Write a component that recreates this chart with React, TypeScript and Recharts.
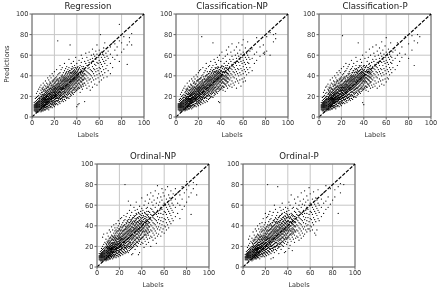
import React from 'react';
import { ScatterChart, Scatter, XAxis, YAxis, CartesianGrid, ReferenceLine } from 'recharts';

type Column = [number, number[]];

const axisTicks = [0, 20, 40, 60, 80, 100];

// label -> predictions
const regressionPoints: Column[] = [
  [2, [6, 7, 8, 9, 10, 11, 12, 14]], [3, [5, 6, 7, 8, 9, 10, 11, 12, 13, 15, 18]],
  [4, [5, 6, 7, 8, 9, 10, 11, 12, 13, 14, 16, 19, 23]], [5, [5, 6, 7, 8, 9, 10, 11, 12, 13, 14, 15, 17, 20, 25]],
  [6, [5, 6, 7, 8, 9, 10, 11, 12, 13, 14, 15, 16, 18, 21, 27]], [7, [6, 7, 8, 9, 10, 11, 12, 13, 14, 15, 16, 17, 19, 23, 29]],
  [8, [5, 7, 8, 9, 10, 11, 12, 13, 14, 15, 16, 18, 20, 22, 26, 31]], [9, [6, 8, 9, 10, 11, 12, 13, 14, 15, 16, 17, 19, 21, 24, 28]],
  [10, [6, 8, 9, 10, 11, 12, 13, 14, 15, 16, 17, 18, 20, 22, 25, 29, 33]], [11, [7, 9, 10, 11, 12, 14, 15, 16, 17, 18, 19, 21, 23, 27, 31]],
  [12, [7, 9, 11, 12, 13, 14, 15, 16, 17, 18, 20, 22, 24, 26, 30, 35]], [13, [8, 10, 12, 13, 14, 15, 16, 17, 19, 20, 21, 23, 25, 28, 33]],
  [14, [8, 10, 12, 14, 15, 16, 17, 18, 20, 21, 22, 24, 26, 29, 32, 38]], [15, [7, 11, 13, 15, 16, 17, 18, 19, 20, 22, 23, 25, 27, 30, 36]],
  [16, [9, 12, 14, 15, 17, 18, 19, 21, 22, 23, 24, 26, 28, 31, 34, 40]], [17, [10, 13, 15, 16, 18, 19, 20, 22, 23, 24, 26, 28, 30, 33, 38]],
  [18, [9, 12, 14, 16, 18, 20, 21, 22, 24, 25, 27, 29, 31, 35, 42]], [19, [11, 14, 16, 18, 19, 21, 22, 24, 25, 26, 28, 30, 32, 36, 40]],
  [20, [10, 13, 15, 17, 19, 21, 23, 24, 25, 27, 28, 30, 33, 37, 44]], [21, [12, 15, 18, 20, 22, 23, 25, 26, 28, 29, 31, 34, 38]],
  [22, [13, 16, 18, 20, 22, 24, 25, 27, 28, 30, 32, 35, 39, 46]], [23, [12, 16, 19, 21, 23, 25, 26, 28, 29, 31, 33, 36, 41, 74]],
  [24, [14, 17, 20, 22, 24, 26, 27, 29, 30, 32, 34, 37, 42]], [25, [13, 18, 21, 23, 25, 27, 28, 30, 31, 33, 35, 38, 43, 50]],
  [26, [15, 18, 21, 24, 26, 28, 29, 31, 33, 35, 37, 40, 46]], [27, [16, 19, 22, 25, 27, 29, 30, 32, 34, 36, 38, 41, 48]],
  [28, [15, 20, 23, 25, 28, 30, 31, 33, 35, 37, 39, 43]], [29, [17, 21, 24, 26, 28, 30, 32, 34, 36, 38, 40, 45, 52]],
  [30, [16, 20, 24, 27, 29, 31, 33, 35, 37, 39, 42, 47]], [31, [18, 22, 25, 28, 30, 32, 34, 36, 38, 40, 44, 49]],
  [32, [19, 23, 26, 29, 31, 33, 35, 37, 39, 42, 46]], [33, [18, 24, 27, 30, 32, 34, 36, 38, 40, 43, 48, 56]],
  [34, [20, 25, 28, 31, 33, 35, 37, 39, 42, 45, 70]], [35, [21, 24, 28, 32, 34, 36, 38, 40, 43, 47, 52]],
  [36, [23, 26, 30, 33, 35, 37, 39, 41, 44, 49]], [37, [22, 27, 31, 34, 36, 38, 40, 42, 45, 54]],
  [38, [24, 28, 32, 35, 37, 39, 41, 43, 46, 50]], [39, [25, 29, 33, 36, 38, 40, 42, 44, 48, 58]],
  [40, [10, 26, 30, 34, 37, 39, 41, 43, 46, 52]], [41, [12, 27, 31, 35, 38, 40, 42, 45, 49]],
  [42, [13, 28, 33, 37, 40, 43, 47, 55]], [43, [24, 30, 34, 38, 41, 44, 50]],
  [44, [29, 34, 38, 41, 45, 53, 60]], [45, [27, 32, 36, 40, 43, 47, 57]],
  [46, [30, 36, 40, 44, 49]], [47, [15, 33, 38, 42, 46, 54]],
  [48, [31, 37, 41, 45, 52, 62]], [49, [28, 35, 40, 44, 50, 58]],
  [50, [33, 38, 43, 47, 55]], [51, [30, 36, 42, 48, 53, 63]],
  [52, [26, 37, 41, 46, 56]], [53, [34, 40, 45, 52, 60]],
  [54, [29, 38, 44, 49, 57, 66]], [55, [36, 42, 47, 54, 61]],
  [56, [32, 40, 46, 51, 59]], [57, [37, 44, 50, 56, 64]],
  [58, [31, 41, 47, 53, 61, 70]], [59, [38, 45, 52, 58]],
  [60, [34, 42, 48, 55, 60, 65]], [61, [40, 47, 53, 62, 80]],
  [62, [36, 44, 51, 58, 63]], [63, [41, 49, 56, 61]],
  [64, [38, 46, 54, 60, 67]], [65, [43, 52, 58, 72]],
  [66, [47, 55, 62]], [67, [39, 50, 59]],
  [68, [45, 57, 64]], [70, [42, 52, 61, 68]],
  [72, [48, 58, 72]], [74, [56, 65, 71]],
  [76, [60, 68]], [78, [54, 90, 74]],
  [80, [63, 72]], [82, [66, 78]],
  [85, [51, 70]], [87, [73, 77]], [89, [70, 81]],
];

// second pass over the dark band of the cloud, between the integer labels
const regressionBand: Column[] = [
  [6.5, [7, 10, 12, 15, 18]], [8.5, [6, 9, 11, 13, 15, 17, 20, 24]], [9.5, [7, 10, 12, 14, 16, 18, 22, 27]], [10.5, [8, 11, 13, 15, 17, 19, 21, 26]],
  [11.5, [7, 10, 12, 14, 16, 19, 22, 25]], [12.5, [9, 12, 14, 17, 19, 21, 24, 28]], [13.5, [10, 12, 15, 18, 20, 22, 26, 30]], [14.5, [9, 13, 15, 17, 20, 23, 25, 29]],
  [15.5, [11, 14, 16, 18, 21, 23, 27, 32]], [16.5, [10, 13, 17, 20, 22, 25, 28, 33]], [17.5, [12, 15, 17, 19, 21, 24, 27, 31]], [18.5, [13, 15, 18, 20, 23, 26, 29, 34]],
  [19.5, [12, 16, 19, 21, 24, 27, 30, 35]], [20.5, [14, 17, 20, 22, 24, 26, 29, 33]], [21.5, [13, 16, 19, 21, 24, 27, 31, 36]], [22.5, [15, 18, 21, 23, 26, 29, 32, 37]],
  [23.5, [16, 18, 22, 24, 27, 30, 33, 35]], [24.5, [15, 19, 21, 25, 28, 30, 32, 38]], [25.5, [17, 20, 22, 24, 27, 29, 33, 36]], [26.5, [18, 21, 23, 26, 28, 31, 34, 39]],
  [27.5, [17, 20, 24, 27, 29, 32, 35, 40]], [28.5, [19, 22, 25, 27, 30, 33, 36, 38]], [29.5, [20, 23, 25, 28, 31, 34, 37, 41]], [30.5, [19, 22, 26, 29, 32, 35, 38, 43]],
  [31.5, [21, 24, 27, 30, 33, 35, 37, 41]], [32.5, [22, 25, 28, 30, 32, 36, 39, 44]], [33.5, [23, 26, 29, 31, 34, 37, 41, 45]], [34.5, [22, 27, 30, 33, 36, 38, 40, 43]],
  [35.5, [25, 28, 31, 34, 36, 39, 42, 46]], [36.5, [24, 29, 32, 35, 37, 40, 43, 47]], [37.5, [26, 29, 33, 36, 38, 41, 44, 48]], [38.5, [27, 31, 34, 37, 39, 42, 45]],
  [39.5, [26, 30, 33, 36, 38, 41, 43, 47]], [40.5, [28, 32, 35, 38, 40, 44, 48]], [41.5, [29, 33, 36, 39, 42, 46]], [42.5, [28, 32, 36, 39, 43, 48]],
  [43.5, [31, 35, 38, 42, 46]], [44.5, [30, 34, 37, 40, 44, 49]], [45.5, [32, 36, 39, 42, 47]], [46.5, [33, 37, 41, 45]],
];

const classificationNpPoints: Column[] = [
  [2, [7, 8, 9, 10, 11, 12, 13]], [3, [6, 7, 8, 9, 10, 11, 12, 13, 15, 17]],
  [4, [6, 7, 8, 9, 10, 11, 12, 13, 14, 16, 18, 22]], [5, [6, 7, 8, 9, 10, 11, 12, 13, 14, 15, 17, 20, 24]],
  [6, [6, 7, 8, 9, 10, 11, 12, 13, 14, 15, 16, 18, 21, 26]], [7, [7, 8, 9, 10, 11, 12, 13, 14, 15, 16, 17, 19, 22, 28]],
  [8, [6, 8, 9, 10, 11, 12, 13, 14, 15, 16, 17, 19, 21, 24, 30]], [9, [7, 9, 10, 11, 12, 13, 14, 15, 16, 17, 18, 20, 23, 27]],
  [10, [7, 9, 10, 11, 12, 13, 14, 15, 16, 17, 18, 20, 22, 25, 28, 33]], [11, [8, 10, 11, 12, 13, 15, 16, 17, 18, 19, 20, 22, 24, 30]],
  [12, [8, 10, 12, 13, 14, 15, 16, 17, 18, 20, 21, 23, 26, 29, 35]], [13, [9, 11, 13, 14, 15, 16, 17, 18, 20, 21, 22, 24, 27, 32]],
  [14, [8, 11, 13, 15, 16, 17, 18, 19, 21, 22, 23, 25, 28, 31, 37]], [15, [9, 12, 14, 16, 17, 18, 19, 20, 22, 23, 24, 26, 29, 35]],
  [16, [10, 12, 15, 16, 18, 19, 20, 22, 23, 24, 25, 27, 30, 33, 39]], [17, [11, 13, 16, 17, 19, 20, 21, 23, 24, 25, 27, 29, 32, 37]],
  [18, [10, 13, 15, 17, 19, 21, 22, 23, 25, 26, 28, 30, 33, 41]], [19, [12, 15, 17, 19, 20, 22, 23, 25, 26, 27, 29, 31, 35, 39]],
  [20, [11, 14, 16, 18, 20, 22, 24, 25, 26, 28, 29, 32, 36, 43]], [21, [13, 16, 19, 21, 23, 24, 26, 27, 29, 30, 33, 37, 45]],
  [22, [12, 15, 18, 20, 23, 25, 26, 28, 29, 31, 34, 38, 46]], [23, [14, 17, 20, 22, 24, 26, 27, 29, 30, 32, 35, 40, 78]],
  [24, [13, 18, 21, 23, 25, 27, 28, 30, 31, 33, 36, 41, 48]], [25, [15, 19, 22, 24, 26, 28, 29, 31, 32, 34, 37, 43]],
  [26, [14, 19, 22, 25, 27, 29, 30, 32, 34, 36, 39, 45]], [27, [16, 20, 23, 26, 28, 30, 31, 33, 35, 37, 40, 47, 52]],
  [28, [15, 21, 24, 26, 29, 31, 32, 34, 36, 38, 41, 44]], [29, [17, 22, 25, 27, 29, 31, 33, 35, 37, 39, 42, 49]],
  [30, [18, 21, 25, 28, 30, 32, 34, 36, 38, 40, 44, 50]], [31, [19, 23, 26, 29, 31, 33, 35, 37, 39, 41, 46, 54]],
  [32, [20, 24, 27, 30, 32, 34, 36, 38, 40, 43, 48]], [33, [19, 25, 28, 31, 33, 35, 37, 39, 41, 44, 50, 72]],
  [34, [21, 26, 29, 32, 34, 36, 38, 40, 43, 46, 56]], [35, [22, 25, 29, 33, 35, 37, 39, 41, 44, 48, 53]],
  [36, [24, 27, 31, 34, 36, 38, 40, 42, 45, 51]], [37, [23, 28, 32, 35, 37, 39, 41, 43, 47, 58]],
  [38, [15, 25, 29, 33, 36, 38, 40, 42, 44, 48, 55]], [39, [14, 26, 30, 34, 37, 39, 41, 43, 46, 60]],
  [40, [27, 31, 35, 38, 40, 42, 45, 48, 54]], [41, [28, 33, 36, 39, 41, 44, 50, 63]],
  [42, [26, 30, 34, 38, 41, 44, 49, 57]], [43, [29, 33, 37, 40, 43, 46, 52]],
  [44, [25, 32, 36, 40, 44, 48, 59]], [45, [30, 35, 39, 43, 47, 54, 65]],
  [46, [28, 34, 38, 42, 46, 50, 61]], [47, [31, 37, 41, 45, 52, 68]],
  [48, [30, 36, 40, 44, 49, 56]], [49, [32, 38, 42, 47, 54, 63]],
  [50, [29, 35, 41, 46, 51, 59, 71]], [51, [33, 39, 44, 49, 56]],
  [52, [31, 38, 43, 48, 53, 65]], [53, [34, 41, 46, 52, 60]],
  [54, [28, 37, 44, 50, 57, 68]], [55, [35, 42, 47, 54, 62]],
  [56, [33, 40, 46, 53, 59, 72]], [57, [36, 43, 50, 56, 65]],
  [58, [30, 41, 47, 54, 61]], [59, [37, 45, 52, 58, 70]],
  [60, [34, 42, 49, 55, 63, 75]], [61, [38, 46, 53, 60]],
  [62, [35, 44, 51, 58, 67]], [63, [41, 48, 56, 62]],
  [64, [46, 53, 60, 73]], [65, [43, 52, 58, 65]],
  [66, [48, 56, 64]], [68, [45, 57, 66]],
  [70, [52, 61]], [72, [55, 63, 77]],
  [75, [59, 68]], [78, [62, 70]],
  [79, [63, 61]], [81, [64, 78]],
  [84, [60, 82]], [87, [73, 80]], [89, [76, 81]],
];

const classificationNpBand: Column[] = [
  [6.5, [8, 10, 13, 16, 19]], [8.5, [7, 9, 12, 14, 16, 18, 21, 25]], [9.5, [8, 10, 13, 15, 17, 19, 23, 26]], [10.5, [9, 11, 14, 16, 18, 20, 22, 27]],
  [11.5, [8, 11, 13, 15, 17, 20, 23, 26]], [12.5, [10, 12, 15, 18, 20, 22, 25, 29]], [13.5, [10, 13, 16, 18, 21, 23, 26, 31]], [14.5, [11, 14, 16, 19, 21, 24, 27, 30]],
  [15.5, [12, 14, 17, 19, 22, 25, 28, 33]], [16.5, [11, 15, 18, 21, 23, 26, 29, 34]], [17.5, [13, 16, 18, 20, 22, 25, 28, 32]], [18.5, [14, 16, 19, 21, 24, 27, 30, 35]],
  [19.5, [13, 17, 20, 22, 25, 28, 31, 36]], [20.5, [15, 18, 21, 23, 25, 27, 30, 34]], [21.5, [14, 17, 20, 22, 25, 28, 32, 37]], [22.5, [16, 19, 22, 24, 27, 30, 33, 38]],
  [23.5, [17, 19, 23, 25, 28, 31, 34, 36]], [24.5, [16, 20, 22, 26, 29, 31, 33, 39]], [25.5, [18, 21, 23, 25, 28, 30, 34, 37]], [26.5, [19, 22, 24, 27, 29, 32, 35, 40]],
  [27.5, [18, 21, 25, 28, 30, 33, 36, 41]], [28.5, [20, 23, 26, 28, 31, 34, 37, 39]], [29.5, [21, 24, 26, 29, 32, 35, 38, 42]], [30.5, [20, 23, 27, 30, 33, 36, 39, 44]],
  [31.5, [22, 25, 28, 31, 34, 36, 38, 42]], [32.5, [23, 26, 29, 31, 33, 37, 40, 45]], [33.5, [24, 27, 30, 32, 35, 38, 42, 46]], [34.5, [23, 28, 31, 34, 37, 39, 41, 44]],
  [35.5, [26, 29, 32, 35, 37, 40, 43, 47]], [36.5, [25, 30, 33, 36, 38, 41, 44, 48]], [37.5, [27, 30, 34, 37, 39, 42, 45, 49]], [38.5, [28, 32, 35, 38, 40, 43, 46]],
  [39.5, [27, 31, 34, 37, 39, 42, 44, 48]], [40.5, [29, 33, 36, 39, 41, 45, 49]], [41.5, [30, 34, 37, 40, 43, 47]], [42.5, [29, 33, 37, 40, 44, 49]],
  [43.5, [32, 36, 39, 43, 47]], [44.5, [31, 35, 38, 41, 45, 50]], [45.5, [33, 37, 40, 43, 48]], [46.5, [34, 38, 42, 46]],
];

const classificationPPoints: Column[] = [
  [2, [7, 8, 9, 10, 11, 12, 14]], [3, [6, 7, 8, 9, 10, 11, 12, 13, 14, 16, 19]],
  [4, [6, 7, 8, 9, 10, 11, 12, 13, 14, 15, 17, 20, 24]], [5, [5, 7, 8, 9, 10, 11, 12, 13, 14, 15, 16, 18, 21, 26]],
  [6, [6, 7, 8, 9, 10, 11, 12, 13, 14, 15, 16, 17, 19, 23, 29]], [7, [6, 8, 9, 10, 11, 12, 13, 14, 15, 16, 17, 18, 20, 24, 30]],
  [8, [7, 8, 9, 10, 11, 12, 13, 14, 15, 16, 17, 18, 20, 22, 27, 32]], [9, [7, 9, 10, 11, 12, 13, 14, 15, 16, 17, 18, 20, 22, 25, 29]],
  [10, [7, 9, 10, 11, 12, 13, 14, 15, 16, 17, 18, 19, 21, 23, 26, 31, 36]], [11, [8, 10, 11, 12, 13, 15, 16, 17, 18, 19, 20, 22, 24, 28, 33]],
  [12, [8, 10, 12, 13, 14, 15, 16, 17, 18, 19, 21, 23, 25, 27, 32, 38]], [13, [9, 11, 13, 14, 15, 16, 17, 18, 20, 21, 22, 24, 26, 30, 35]],
  [14, [9, 11, 13, 15, 16, 17, 18, 19, 21, 22, 23, 25, 27, 31, 34, 40]], [15, [8, 12, 14, 16, 17, 18, 19, 20, 21, 23, 24, 26, 29, 32, 38]],
  [16, [10, 13, 15, 16, 18, 19, 20, 22, 23, 24, 25, 27, 30, 33, 36, 43]], [17, [11, 14, 16, 17, 19, 20, 21, 23, 24, 25, 27, 29, 31, 35, 41]],
  [18, [10, 13, 15, 17, 19, 21, 22, 23, 25, 26, 28, 30, 33, 37, 45]], [19, [12, 15, 17, 19, 20, 22, 23, 25, 26, 27, 29, 31, 34, 38, 43]],
  [20, [11, 14, 16, 18, 20, 22, 24, 25, 26, 28, 29, 31, 35, 39, 47]], [21, [13, 16, 19, 21, 23, 24, 26, 27, 29, 30, 32, 36, 41, 79]],
  [22, [14, 17, 19, 21, 23, 25, 26, 28, 29, 31, 33, 37, 42, 49]], [23, [13, 17, 20, 22, 24, 26, 27, 29, 30, 32, 34, 38, 44]],
  [24, [15, 18, 21, 23, 25, 27, 28, 30, 31, 33, 35, 39, 45, 52]], [25, [14, 19, 22, 24, 26, 28, 29, 31, 32, 34, 36, 40, 47]],
  [26, [16, 19, 22, 25, 27, 29, 30, 32, 34, 36, 38, 42, 49]], [27, [17, 20, 23, 26, 28, 30, 31, 33, 35, 37, 39, 44, 51]],
  [28, [16, 21, 24, 26, 29, 31, 32, 34, 36, 38, 40, 46]], [29, [18, 22, 25, 27, 29, 31, 33, 35, 37, 39, 41, 47, 55]],
  [30, [17, 21, 25, 28, 30, 32, 34, 36, 38, 40, 43, 49]], [31, [19, 23, 26, 29, 31, 33, 35, 37, 39, 41, 45, 52]],
  [32, [20, 24, 27, 30, 32, 34, 36, 38, 40, 43, 47]], [33, [19, 25, 28, 31, 33, 35, 37, 39, 41, 44, 50, 58]],
  [34, [21, 26, 29, 32, 34, 36, 38, 40, 43, 46, 54]], [35, [22, 25, 29, 33, 35, 37, 39, 41, 44, 48, 72]],
  [36, [24, 27, 31, 34, 36, 38, 40, 42, 45, 50]], [37, [23, 28, 32, 35, 37, 39, 41, 43, 46, 56]],
  [38, [25, 29, 33, 36, 38, 40, 42, 44, 48, 53]], [39, [14, 26, 30, 34, 37, 39, 41, 43, 46, 60]],
  [40, [12, 27, 31, 35, 38, 40, 42, 45, 50]], [41, [28, 33, 36, 39, 41, 44, 48, 57]],
  [42, [26, 30, 34, 38, 41, 44, 49, 63]], [43, [29, 33, 37, 40, 43, 46, 54]],
  [44, [25, 32, 36, 40, 44, 48, 58]], [45, [30, 35, 39, 43, 47, 52, 66]],
  [46, [28, 34, 38, 42, 46, 50, 60]], [47, [31, 37, 41, 45, 53]],
  [48, [29, 36, 40, 44, 49, 56, 68]], [49, [32, 38, 42, 47, 54, 62]],
  [50, [30, 35, 41, 46, 51, 59]], [51, [33, 39, 44, 49, 56, 70]],
  [52, [28, 38, 43, 48, 53, 64]], [53, [34, 41, 46, 52, 60]],
  [54, [30, 37, 44, 50, 57, 67]], [55, [35, 42, 47, 54, 62]],
  [56, [32, 40, 46, 53, 59, 73]], [57, [36, 43, 50, 56, 65]],
  [58, [31, 41, 47, 54, 61]], [59, [37, 45, 52, 58, 69]],
  [60, [34, 42, 49, 55, 63, 77]], [61, [38, 46, 53, 60]],
  [62, [37, 44, 51, 58, 66]], [63, [41, 48, 56, 61]],
  [64, [46, 53, 59, 72]], [65, [43, 52, 58, 64]],
  [66, [48, 55, 63]], [68, [46, 57, 65]],
  [70, [50, 60, 72]], [72, [54, 62]],
  [74, [58, 68]], [77, [61, 78]],
  [80, [57, 71]], [83, [65, 79]],
  [85, [50, 74]], [88, [72, 80]], [90, [78]],
];

const classificationPBand: Column[] = [
  [6.5, [8, 11, 14, 17, 20]], [8.5, [7, 10, 12, 15, 17, 19, 23, 26]], [9.5, [8, 11, 13, 16, 18, 21, 24, 28]], [10.5, [9, 12, 14, 17, 19, 22, 25, 29]],
  [11.5, [8, 11, 14, 16, 18, 21, 24, 27]], [12.5, [10, 13, 15, 18, 20, 23, 26, 30]], [13.5, [11, 13, 16, 19, 22, 24, 28, 32]], [14.5, [10, 14, 17, 19, 22, 25, 28, 31]],
  [15.5, [12, 15, 17, 20, 23, 26, 29, 34]], [16.5, [11, 15, 18, 21, 24, 27, 30, 35]], [17.5, [13, 16, 19, 21, 23, 26, 29, 33]], [18.5, [14, 17, 19, 22, 25, 28, 31, 36]],
  [19.5, [13, 17, 20, 23, 26, 29, 32, 37]], [20.5, [15, 18, 21, 24, 26, 28, 31, 35]], [21.5, [14, 18, 21, 23, 26, 29, 33, 38]], [22.5, [16, 19, 22, 25, 28, 31, 34, 39]],
  [23.5, [17, 20, 23, 26, 29, 32, 35, 37]], [24.5, [16, 20, 23, 27, 30, 32, 34, 40]], [25.5, [18, 21, 24, 26, 29, 31, 35, 38]], [26.5, [19, 22, 25, 28, 30, 33, 36, 41]],
  [27.5, [18, 22, 26, 29, 31, 34, 37, 42]], [28.5, [20, 24, 27, 29, 32, 35, 38, 40]], [29.5, [21, 24, 27, 30, 33, 36, 39, 43]], [30.5, [20, 24, 28, 31, 34, 37, 40, 45]],
  [31.5, [22, 26, 29, 32, 35, 37, 39, 43]], [32.5, [23, 27, 30, 32, 34, 38, 41, 46]], [33.5, [24, 28, 31, 33, 36, 39, 43, 47]], [34.5, [23, 28, 32, 35, 38, 40, 42, 45]],
  [35.5, [26, 30, 33, 36, 38, 41, 44, 48]], [36.5, [25, 30, 34, 37, 39, 42, 45, 49]], [37.5, [27, 31, 35, 38, 40, 43, 46, 50]], [38.5, [28, 33, 36, 39, 41, 44, 47]],
  [39.5, [27, 32, 35, 38, 40, 43, 45, 49]], [40.5, [29, 34, 37, 40, 42, 46, 50]], [41.5, [30, 35, 38, 41, 44, 48]], [42.5, [29, 34, 38, 41, 45, 50]],
  [43.5, [32, 37, 40, 44, 48]], [44.5, [31, 36, 39, 42, 46, 51]], [45.5, [33, 38, 41, 44, 49]], [46.5, [34, 39, 43, 47]],
];

const ordinalNpPoints: Column[] = [
  [2, [7, 8, 9, 10, 11, 13]], [3, [6, 7, 8, 9, 10, 11, 12, 13, 15]],
  [4, [6, 7, 8, 9, 10, 11, 12, 13, 14, 16, 18]], [5, [6, 7, 8, 9, 10, 11, 12, 13, 14, 15, 17, 20, 29]],
  [6, [6, 7, 8, 9, 10, 11, 12, 13, 14, 15, 16, 18, 22, 32]], [7, [7, 8, 9, 10, 11, 12, 13, 14, 15, 16, 17, 19, 24]],
  [8, [6, 8, 9, 10, 11, 12, 13, 14, 15, 16, 18, 20, 23, 27]], [9, [7, 9, 10, 11, 12, 13, 14, 15, 16, 17, 19, 21, 25, 33]],
  [10, [7, 9, 10, 11, 12, 13, 14, 15, 16, 17, 18, 20, 23, 26, 30]], [11, [8, 9, 11, 12, 13, 14, 16, 17, 18, 19, 21, 24, 28, 36]],
  [12, [8, 10, 11, 13, 14, 15, 16, 17, 18, 20, 22, 25, 29, 34]], [13, [9, 10, 12, 14, 15, 16, 17, 18, 19, 21, 23, 26, 31, 39]],
  [14, [8, 11, 13, 14, 15, 17, 18, 19, 21, 22, 24, 27, 30, 36]], [15, [9, 12, 14, 15, 16, 18, 19, 20, 22, 24, 26, 29, 33, 41]],
  [16, [10, 12, 14, 16, 17, 19, 20, 22, 23, 25, 27, 30, 35, 38]], [17, [9, 13, 15, 17, 18, 20, 21, 23, 24, 26, 28, 31, 36, 42]],
  [18, [11, 13, 16, 18, 19, 21, 22, 24, 25, 27, 30, 33, 38]], [19, [10, 14, 16, 18, 20, 22, 23, 25, 27, 29, 31, 35, 40, 45]],
  [20, [12, 15, 17, 19, 21, 23, 24, 26, 28, 30, 33, 37, 42]], [21, [11, 14, 17, 20, 22, 24, 26, 27, 29, 32, 35, 39, 47]],
  [22, [13, 16, 18, 20, 23, 25, 27, 28, 30, 33, 36, 41, 48]], [23, [12, 15, 19, 21, 24, 26, 28, 30, 32, 35, 38, 43]],
  [24, [14, 17, 20, 22, 25, 27, 29, 31, 33, 36, 40, 45, 50]], [25, [13, 18, 21, 23, 26, 28, 30, 32, 34, 37, 41, 46, 80]],
  [26, [14, 18, 21, 24, 26, 29, 31, 33, 36, 39, 43, 49]], [27, [15, 19, 22, 25, 27, 30, 32, 34, 37, 40, 45, 52]],
  [28, [14, 20, 23, 25, 28, 31, 33, 35, 38, 41, 46, 64]], [29, [16, 20, 24, 27, 29, 31, 34, 36, 39, 43, 48, 55]],
  [30, [17, 21, 24, 28, 30, 33, 35, 37, 40, 44, 50, 60]], [31, [12, 18, 22, 26, 29, 32, 34, 36, 39, 42, 46, 53]],
  [32, [13, 19, 23, 27, 30, 33, 35, 38, 41, 44, 48]], [33, [20, 24, 28, 31, 34, 36, 38, 41, 45, 50, 58]],
  [34, [17, 22, 26, 30, 33, 35, 37, 40, 43, 47, 55]], [35, [21, 25, 29, 32, 35, 37, 39, 42, 46, 52, 63]],
  [36, [20, 24, 28, 32, 35, 38, 41, 44, 48, 56]], [37, [12, 23, 27, 31, 34, 37, 40, 43, 47, 53]],
  [38, [14, 25, 29, 33, 36, 39, 42, 45, 49, 59]], [39, [22, 27, 31, 35, 38, 41, 44, 48, 54]],
  [40, [24, 28, 33, 36, 39, 42, 45, 50, 57, 67]], [41, [23, 29, 34, 38, 41, 44, 48, 55]],
  [42, [19, 27, 32, 37, 40, 44, 49, 60]], [43, [25, 31, 35, 40, 43, 47, 52, 64]],
  [44, [22, 29, 34, 38, 42, 46, 51, 57]], [45, [27, 33, 37, 41, 45, 50, 58, 70]],
  [46, [24, 31, 36, 40, 44, 49, 54, 62]], [47, [28, 34, 39, 43, 47, 53, 66]],
  [48, [20, 30, 36, 41, 46, 51, 57, 72]], [49, [29, 35, 40, 45, 50, 56, 63]],
  [50, [26, 33, 38, 43, 48, 54, 60, 69]], [51, [31, 37, 42, 47, 53, 65]],
  [52, [28, 35, 41, 46, 52, 58, 74]], [53, [23, 33, 39, 45, 51, 62]],
  [54, [30, 37, 43, 49, 55, 67, 79]], [55, [32, 39, 46, 52, 60, 71]],
  [56, [36, 42, 48, 55, 63]], [57, [30, 38, 45, 52, 58, 68]],
  [58, [34, 41, 48, 56, 65, 76]], [59, [37, 44, 51, 60, 72]],
  [60, [33, 40, 47, 54, 62, 69]], [61, [39, 46, 53, 60, 75]],
  [62, [36, 43, 51, 58, 66]], [63, [41, 48, 56, 63, 78]],
  [64, [38, 46, 54, 61, 70]], [65, [44, 52, 59, 67]],
  [66, [42, 50, 57, 65, 74]], [67, [47, 55, 62]],
  [68, [45, 53, 60, 71]], [70, [49, 58, 66, 76]],
  [72, [52, 62, 72]], [74, [47, 60, 70]],
  [76, [56, 66, 78]], [78, [59, 72]],
  [80, [63, 75, 83]], [82, [68, 79]],
  [84, [51, 72]], [86, [76, 82]], [89, [80, 70]],
];

const ordinalNpBand: Column[] = [
  [6.5, [8, 10, 13, 16]], [8.5, [7, 9, 11, 14, 16, 19, 22]], [9.5, [8, 10, 13, 15, 18, 20, 24]], [10.5, [9, 11, 14, 16, 19, 22, 25]],
  [11.5, [8, 11, 13, 15, 18, 20, 23, 26]], [12.5, [10, 12, 15, 17, 19, 21, 24, 28]], [13.5, [11, 13, 16, 18, 20, 23, 27, 30]], [14.5, [10, 12, 15, 17, 20, 23, 26, 29]],
  [15.5, [11, 14, 17, 19, 21, 24, 28, 31]], [16.5, [12, 15, 18, 20, 22, 26, 29, 33]], [17.5, [11, 14, 16, 19, 22, 25, 28, 34]], [18.5, [13, 16, 18, 21, 23, 27, 30, 35]],
  [19.5, [12, 15, 19, 22, 25, 28, 32, 37]], [20.5, [14, 16, 20, 23, 25, 29, 31, 36]], [21.5, [13, 17, 19, 22, 26, 28, 33, 38]], [22.5, [15, 18, 21, 24, 27, 30, 34, 39]],
  [23.5, [14, 17, 22, 25, 27, 31, 35, 40]], [24.5, [16, 19, 21, 24, 28, 32, 36, 41]], [25.5, [15, 19, 23, 26, 29, 33, 37, 39]], [26.5, [17, 20, 24, 27, 30, 34, 38, 42]],
  [27.5, [16, 21, 25, 28, 32, 35, 39, 44]], [28.5, [18, 22, 26, 29, 33, 36, 40, 43]], [29.5, [19, 23, 25, 30, 32, 37, 41, 46]], [30.5, [20, 22, 27, 31, 34, 38, 42, 45]],
  [31.5, [19, 24, 28, 32, 35, 39, 43, 47]], [32.5, [21, 25, 29, 31, 36, 38, 42, 48]], [33.5, [22, 26, 30, 33, 37, 40, 44, 49]], [34.5, [23, 27, 31, 34, 38, 41, 45, 50]],
  [35.5, [24, 28, 32, 36, 39, 43, 47, 51]], [36.5, [25, 29, 33, 35, 40, 44, 48]], [37.5, [26, 30, 34, 37, 41, 45, 49, 52]], [38.5, [27, 31, 35, 38, 42, 46, 51]],
  [39.5, [28, 32, 36, 39, 43, 47, 50]], [40.5, [29, 34, 37, 40, 44, 48, 52]], [41.5, [30, 35, 38, 42, 46, 50]], [42.5, [31, 34, 39, 43, 47, 53]],
  [43.5, [32, 36, 41, 45, 49]], [44.5, [31, 35, 40, 44, 48, 54]], [45.5, [33, 38, 42, 46, 51]], [46.5, [34, 39, 43, 48]],
];

const ordinalPPoints: Column[] = [
  [2, [7, 8, 9, 10, 12]], [3, [7, 8, 9, 10, 11, 12, 13, 15]],
  [4, [7, 8, 9, 10, 11, 12, 13, 14, 16, 19]], [5, [6, 8, 9, 10, 11, 12, 13, 14, 15, 17, 21, 27]],
  [6, [7, 8, 9, 10, 11, 12, 13, 14, 15, 16, 18, 23, 30]], [7, [7, 8, 9, 10, 11, 12, 13, 14, 15, 16, 17, 19, 25]],
  [8, [6, 8, 9, 10, 11, 12, 13, 14, 15, 16, 18, 20, 24, 28]], [9, [7, 9, 10, 11, 12, 13, 14, 15, 16, 17, 19, 22, 26, 34]],
  [10, [8, 9, 10, 11, 12, 13, 14, 15, 16, 17, 18, 20, 23, 27, 31]], [11, [8, 9, 11, 12, 13, 14, 16, 17, 18, 19, 21, 24, 29, 37]],
  [12, [8, 10, 11, 13, 14, 15, 16, 17, 18, 20, 22, 25, 30, 35]], [13, [9, 10, 12, 14, 15, 16, 17, 18, 19, 21, 23, 26, 32, 40]],
  [14, [9, 11, 13, 14, 15, 17, 18, 19, 21, 22, 24, 27, 31, 37]], [15, [8, 12, 14, 15, 16, 18, 19, 20, 22, 24, 26, 29, 34, 42]],
  [16, [10, 12, 14, 16, 17, 19, 20, 22, 23, 25, 27, 30, 36, 39]], [17, [10, 13, 15, 17, 18, 20, 21, 23, 24, 26, 28, 31, 37, 43]],
  [18, [11, 13, 16, 18, 19, 21, 22, 24, 25, 27, 30, 33, 39, 47]], [19, [10, 14, 16, 18, 20, 22, 23, 25, 27, 29, 31, 35, 41]],
  [20, [12, 15, 17, 19, 21, 23, 24, 26, 28, 30, 33, 37, 43, 52]], [21, [11, 14, 17, 20, 22, 24, 26, 27, 29, 32, 35, 39, 48]],
  [22, [13, 16, 18, 20, 23, 25, 27, 28, 30, 33, 36, 41, 49, 80]], [23, [12, 15, 19, 21, 24, 26, 28, 30, 32, 35, 38, 44, 51]],
  [24, [14, 17, 20, 22, 25, 27, 29, 31, 33, 36, 40, 46, 54]], [25, [8, 13, 18, 21, 23, 26, 28, 30, 32, 34, 37, 41, 47]],
  [26, [15, 18, 21, 24, 26, 29, 31, 33, 36, 39, 43, 50]], [27, [9, 16, 19, 22, 25, 27, 30, 32, 34, 37, 40, 45, 53]],
  [28, [14, 20, 23, 25, 28, 31, 33, 35, 38, 41, 46, 60]], [29, [17, 20, 24, 27, 29, 31, 34, 36, 39, 43, 48, 56]],
  [30, [16, 21, 24, 28, 30, 33, 35, 37, 40, 44, 50]], [31, [18, 22, 26, 29, 32, 34, 36, 39, 42, 46, 53, 78]],
  [32, [13, 19, 23, 27, 30, 33, 35, 38, 41, 44, 48]], [33, [20, 24, 28, 31, 34, 36, 38, 41, 45, 50, 58]],
  [34, [17, 22, 26, 30, 33, 35, 37, 40, 43, 47, 55]], [35, [21, 25, 29, 32, 35, 37, 39, 42, 46, 52, 62]],
  [36, [20, 24, 28, 32, 35, 38, 41, 44, 48, 56]], [37, [14, 23, 27, 31, 34, 37, 40, 43, 47, 53]],
  [38, [15, 25, 29, 33, 36, 39, 42, 45, 49, 58]], [39, [22, 27, 31, 35, 38, 41, 44, 48, 54]],
  [40, [24, 28, 33, 36, 39, 42, 45, 50, 57]], [41, [18, 29, 34, 38, 41, 44, 48, 55, 63]],
  [42, [21, 27, 32, 37, 40, 44, 49, 60]], [43, [25, 31, 35, 40, 43, 47, 52, 70]],
  [44, [16, 29, 34, 38, 42, 46, 51, 57]], [45, [27, 33, 37, 41, 45, 50, 58]],
  [46, [24, 31, 36, 40, 44, 49, 54, 66]], [47, [28, 34, 39, 43, 47, 53, 62]],
  [48, [30, 36, 41, 46, 51, 57]], [49, [29, 35, 40, 45, 50, 56, 68]],
  [50, [26, 33, 38, 43, 48, 54, 60]], [51, [31, 37, 42, 47, 53, 64]],
  [52, [28, 35, 41, 46, 52, 58, 72]], [53, [33, 39, 45, 51, 61]],
  [54, [30, 37, 43, 49, 55, 66]], [55, [32, 39, 46, 52, 60, 74]],
  [56, [36, 42, 48, 55, 63]], [57, [34, 40, 45, 52, 58, 69]],
  [58, [37, 41, 48, 56, 65]], [59, [37, 44, 51, 60, 77]],
  [60, [35, 40, 47, 54, 62, 71]], [61, [39, 46, 53, 60]],
  [62, [36, 43, 51, 58, 66]], [63, [41, 48, 56, 63, 73]],
  [64, [33, 46, 54, 61]], [65, [31, 44, 52, 59, 67]],
  [66, [36, 50, 57, 65]], [67, [47, 55, 62, 75]],
  [68, [45, 53, 60]], [70, [49, 58, 66]],
  [72, [52, 62, 72]], [74, [56, 64, 79]],
  [76, [58, 68]], [78, [61, 76]],
  [80, [65, 80]], [82, [68, 75]],
  [85, [52, 78]], [87, [72, 81]], [90, [80]],
];

const ordinalPBand: Column[] = [
  [6.5, [9, 11, 14, 17]], [8.5, [8, 10, 12, 15, 17, 20, 23]], [9.5, [9, 11, 14, 16, 19, 21, 25]], [10.5, [10, 12, 15, 17, 20, 23, 26]],
  [11.5, [9, 12, 14, 16, 19, 21, 24, 27]], [12.5, [11, 13, 16, 18, 20, 22, 25, 29]], [13.5, [12, 14, 17, 19, 21, 24, 28, 31]], [14.5, [11, 13, 16, 18, 21, 24, 27, 30]],
  [15.5, [12, 15, 18, 20, 22, 25, 29, 32]], [16.5, [13, 16, 19, 21, 23, 27, 30, 34]], [17.5, [12, 15, 17, 20, 23, 26, 29, 35]], [18.5, [14, 17, 19, 22, 24, 28, 31, 36]],
  [19.5, [13, 16, 20, 23, 26, 29, 33, 38]], [20.5, [15, 17, 21, 24, 26, 30, 32, 37]], [21.5, [14, 18, 20, 23, 27, 29, 34, 39]], [22.5, [16, 19, 22, 25, 28, 31, 35, 40]],
  [23.5, [15, 18, 23, 26, 28, 32, 36, 41]], [24.5, [17, 20, 22, 25, 29, 33, 37, 42]], [25.5, [16, 20, 24, 27, 30, 34, 38, 40]], [26.5, [18, 21, 25, 28, 31, 35, 39, 43]],
  [27.5, [17, 22, 26, 29, 33, 36, 40, 45]], [28.5, [19, 23, 27, 30, 34, 37, 41, 44]], [29.5, [20, 24, 26, 31, 33, 38, 42, 47]], [30.5, [21, 23, 28, 32, 35, 39, 43, 46]],
  [31.5, [20, 25, 29, 33, 36, 40, 44, 48]], [32.5, [22, 26, 30, 32, 37, 39, 43, 49]], [33.5, [23, 27, 31, 34, 38, 41, 45, 50]], [34.5, [24, 28, 32, 35, 39, 42, 46, 51]],
  [35.5, [25, 29, 33, 37, 40, 44, 48]], [36.5, [26, 30, 34, 36, 41, 45, 49]], [37.5, [27, 31, 35, 38, 42, 46, 50]], [38.5, [28, 32, 36, 39, 43, 47, 52]],
  [39.5, [29, 33, 37, 40, 44, 48, 51]], [40.5, [30, 35, 38, 41, 45, 49]], [41.5, [31, 36, 39, 43, 47, 51]], [42.5, [32, 35, 40, 44, 48]],
  [43.5, [33, 37, 42, 46, 50]], [44.5, [32, 36, 41, 45, 49]], [45.5, [34, 39, 43, 47]], [46.5, [35, 40, 44, 49]],
];

const toPoints = (columns: Column[]) =>
  columns.flatMap(([label, predictions]) => predictions.map((p) => ({ label, prediction: p })));

const Dot = ({ cx, cy }: any) => <circle cx={cx} cy={cy} r={0.62} fill="#000" />;

const tickStyle = { fontSize: 6.6, fill: '#333', fontFamily: 'DejaVu Sans' };

const Panel = ({ title, columns, band, left, top, showYLabel }: any) => (
  <div style={{ position: 'absolute', left, top }}>
    <div
      style={{
        position: 'absolute',
        left: 30,
        width: 112,
        top: -9,
        textAlign: 'center',
        fontFamily: 'DejaVu Sans',
        fontSize: 8.6,
        color: '#222',
        whiteSpace: 'nowrap',
      }}
    >
      {title}
    </div>
    <ScatterChart width={152} height={135} margin={{ top: 4, right: 10, bottom: 0, left: 0 }}>
      <CartesianGrid stroke="#c6c6c6" strokeWidth={1} />
      <XAxis
        type="number"
        dataKey="label"
        domain={[0, 100]}
        ticks={axisTicks}
        interval={0}
        height={28}
        tickSize={2.5}
        tickMargin={1}
        stroke="#666"
        tick={tickStyle}
        label={{ value: 'Labels', position: 'insideBottom', offset: 8, style: tickStyle }}
      />
      <YAxis
        type="number"
        dataKey="prediction"
        domain={[0, 100]}
        ticks={axisTicks}
        interval={0}
        width={30}
        tickSize={2.5}
        tickMargin={1}
        stroke="#666"
        tick={tickStyle}
      />
      <ReferenceLine x={100} stroke="#666" />
      <ReferenceLine y={100} stroke="#666" />
      <Scatter data={toPoints(columns)} shape={<Dot />} isAnimationActive={false} />
      <Scatter data={toPoints(band)} shape={<Dot />} isAnimationActive={false} />
      <ReferenceLine
        segment={[{ x: 0, y: 0 }, { x: 100, y: 100 }]}
        stroke="#000"
        strokeWidth={1.2}
        strokeDasharray="3.5 1.5"
      />
    </ScatterChart>
    {showYLabel && (
      <div
        style={{
          position: 'absolute',
          left: -25,
          top: 50,
          width: 60,
          textAlign: 'center',
          transform: 'rotate(-90deg)',
          fontFamily: 'DejaVu Sans',
          fontSize: 6.8,
          color: '#333',
        }}
      >
        Predictions
      </div>
    )}
  </div>
);

export default function App() {
  return (
    <div style={{ position: 'absolute', left: 0, top: 0, width: 440, height: 291, background: '#fff', overflow: 'hidden', filter: 'blur(0.3px)' }}>
      <Panel title="Regression" columns={regressionPoints} band={regressionBand} left={2} top={10} showYLabel />
      <Panel title="Classification-NP" columns={classificationNpPoints} band={classificationNpBand} left={146} top={10} />
      <Panel title="Classification-P" columns={classificationPPoints} band={classificationPBand} left={289} top={10} />
      <Panel title="Ordinal-NP" columns={ordinalNpPoints} band={ordinalNpBand} left={67} top={160} />
      <Panel title="Ordinal-P" columns={ordinalPPoints} band={ordinalPBand} left={213} top={160} />
    </div>
  );
}
